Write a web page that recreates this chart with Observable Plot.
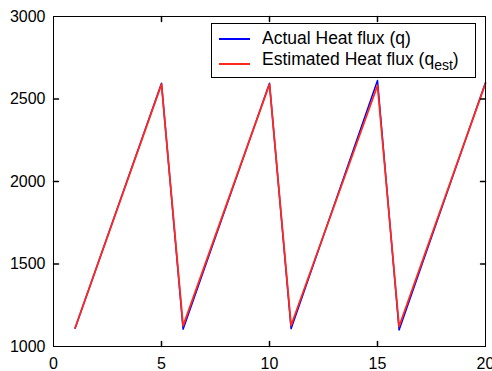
<!DOCTYPE html>
<html><head><meta charset="utf-8">
<script src="https://cdn.jsdelivr.net/npm/d3@7"></script>
<script src="https://cdn.jsdelivr.net/npm/@observablehq/plot@0.6"></script>
<style>
body{margin:0;background:#fff;}
#wrap{position:relative;width:492px;height:371px;}
.legend{position:absolute;left:211px;top:23px;width:265px;height:55px;border:1px solid #000;background:#fff;font-family:"Liberation Sans",Arial,sans-serif;font-size:17.5px;color:#000;box-sizing:border-box;}
.legend .sw{position:absolute;left:7px;width:31px;height:1.5px;}
.legend .lb{position:absolute;left:50px;white-space:nowrap;line-height:1;}
.legend sub{font-size:14px;vertical-align:-5px;line-height:0;}
</style></head><body><div id="wrap"></div>
<script>
// data
const actualX = [1, 5, 6, 10, 11, 15, 16, 20];
const actualY = [1110, 2595, 1105, 2595, 1108, 2612, 1100, 2600];
const estX = [1, 5, 6, 10, 11, 15, 16, 20];
const estY = [1112, 2590, 1125, 2590, 1127, 2582, 1121, 2595];
const xTicks = [0, 5, 10, 15, 20];
const yTicks = [1000, 1500, 2000, 2500, 3000];
const seriesNames = ["Actual Heat flux (q)", "Estimated Heat flux (q", "est", ")"];
const seriesColors = ["#0000ff", "#ff2a1a"];

const actual = actualX.map((x, i) => ({x, y: actualY[i]}));
const est = estX.map((x, i) => ({x, y: estY[i]}));
const tickShape = {draw(ctx, l) { ctx.moveTo(0, 0); ctx.lineTo(0, -l); }};
const inner = xTicks.slice(1, -1);
const innerY = yTicks.slice(1, -1);

const chart = Plot.plot({
  width: 492, height: 371,
  marginLeft: 53, marginRight: 7, marginTop: 16, marginBottom: 25,
  style: {fontFamily: "'Liberation Sans', Arial, sans-serif", fontSize: "16px", color: "#000", background: "#fff"},
  x: {domain: [0, 20]},
  y: {domain: [1000, 3000]},
  marks: [
    Plot.line(actual, {x: "x", y: "y", stroke: seriesColors[0], strokeWidth: 1.5}),
    Plot.line(est, {x: "x", y: "y", stroke: seriesColors[1], strokeWidth: 1.8}),
    Plot.frame({stroke: "#000", strokeWidth: 1}),
    Plot.vector(inner, {x: d => d, y: () => 1000, length: 5, rotate: 0, anchor: "start", shape: tickShape, stroke: "#000"}),
    Plot.vector(inner, {x: d => d, y: () => 3000, length: 5, rotate: 180, anchor: "start", shape: tickShape, stroke: "#000"}),
    Plot.vector(innerY, {x: () => 0, y: d => d, length: 5, rotate: 90, anchor: "start", shape: tickShape, stroke: "#000"}),
    Plot.vector(innerY, {x: () => 20, y: d => d, length: 5, rotate: -90, anchor: "start", shape: tickShape, stroke: "#000"}),
    Plot.axisX(xTicks, {tickSize: 0, tickPadding: 11, label: null, fontSize: 16, tickFormat: d3.format("d")}),
    Plot.axisY(yTicks, {tickSize: 0, tickPadding: 8, label: null, fontSize: 16, tickFormat: d3.format("d")})
  ]
});
const wrap = document.getElementById("wrap");
wrap.appendChild(chart);
const lg = document.createElement("div");
lg.className = "legend";
lg.innerHTML =
  `<div class="sw" style="top:14px;background:${seriesColors[0]}"></div>` +
  `<div class="lb" style="top:6px">${seriesNames[0]}</div>` +
  `<div class="sw" style="top:39px;background:${seriesColors[1]}"></div>` +
  `<div class="lb" style="top:27px">${seriesNames[1]}<sub>${seriesNames[2]}</sub>${seriesNames[3]}</div>`;
wrap.appendChild(lg);
</script></body></html>
